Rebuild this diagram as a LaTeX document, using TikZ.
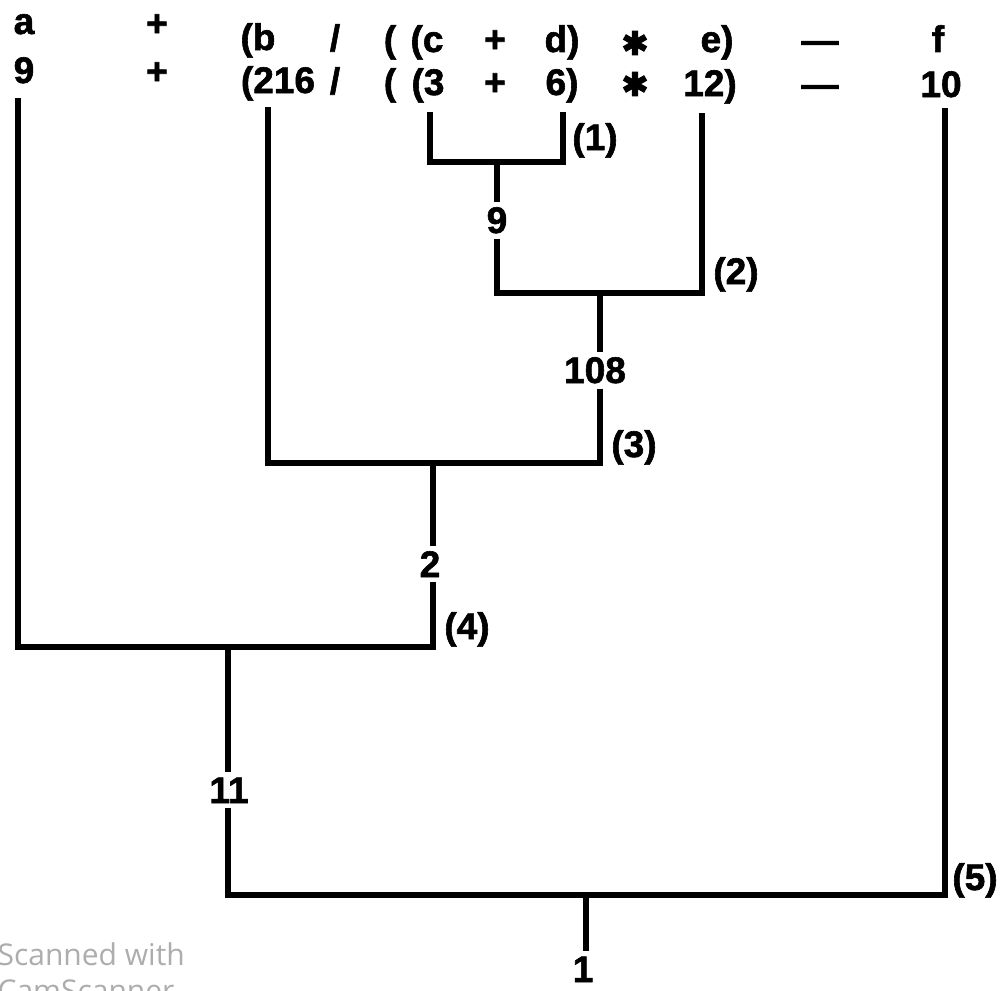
\documentclass[tikz,border=0pt]{standalone}
\usepackage{fontspec}
\setmainfont{Liberation Sans}[BoldFeatures={FakeBold=1.6}]
\newfontfamily\wmfont{Open Sans}
\newfontfamily\symfont{DejaVu Sans}[FakeBold=4]
\begin{document}
\begin{tikzpicture}[x=1pt,y=-1pt,
  tree/.style={line width=6pt, line join=miter},
  tok/.style={font=\fontsize{37}{40}\selectfont\bfseries, inner sep=0pt, anchor=base},
  star/.style={font=\symfont\fontsize{32}{34}\selectfont, inner sep=0pt, anchor=center},
  res/.style={tok, inner sep=5pt},
  wm/.style={font=\wmfont\fontsize{30}{36}\selectfont, text=black!32, inner sep=0pt}]
\useasboundingbox (0,0) rectangle (1008,990);
\clip (0,0) rectangle (1008,990);
% expression, row 1
\node[tok] (va)  at (24,34)  {a};
\node[tok] (op1) at (157,36) {+};
\node[tok] (vb)  at (258,50) {(b};
\node[tok] (op2) at (335,51) {/};
\node[tok] (pa)  at (390,52) {(};
\node[tok] (vc)  at (427,52) {(c};
\node[tok] (op3) at (495,52) {+};
\node[tok] (vd)  at (562,52) {d)};
\node[star] (op4) at (635,43) {✱};
\node[tok] (ve)  at (717,52) {e)};
\node[tok] (op5) at (820,53) {—};
\node[tok] (vf)  at (938,52) {f};
% expression, row 2
\node[tok] (na)  at (24,83)  {9};
\node[tok] (op6) at (157,84) {+};
\node[tok] (nb)  at (278,93) {(216};
\node[tok] (op7) at (335,94) {/};
\node[tok] (pb)  at (390,95) {(};
\node[tok] (nc)  at (428,95) {(3};
\node[tok] (op8) at (495,95) {+};
\node[tok] (nd)  at (562,95) {6)};
\node[star] (op9) at (635,84) {✱};
\node[tok] (ne)  at (710,96) {12)};
\node[tok] (op10) at (820,97) {—};
\node[tok] (nf)  at (941,97) {10};
% tops of the tree lines
\coordinate (ta) at (18,98);
\coordinate (tb) at (268,107);
\coordinate (tc) at (430,112);
\coordinate (td) at (563,112);
\coordinate (te) at (702,113);
\coordinate (tf) at (945,108);
% junctions
\coordinate (j1) at (497,162);
\coordinate (j2) at (600,293);
\coordinate (j3) at (433,463);
\coordinate (j4) at (228,647);
\coordinate (j5) at (586,895);
% intermediate results
\node[res] (r1) at (497,233) {9};
\node[res] (r2) at (595,383) {108};
\node[res] (r3) at (430,577) {2};
\node[res] (r4) at (229,803) {11};
\node[res] (r5) at (583,982) {1};
% step labels
\node[tok] (l1) at (595,150) {(1)};
\node[tok] (l2) at (736,284) {(2)};
\node[tok] (l3) at (634,457) {(3)};
\node[tok] (l4) at (467,639) {(4)};
\node[tok] (l5) at (975,890) {(5)};
% tree
\draw[tree] (tc) |- (j1) -| (td);
\draw[tree] (j1) -- (j1 |- r1.north);
\draw[tree] (j1 |- r1.south) |- (j2) -| (te);
\draw[tree] (j2) -- (j2 |- r2.north);
\draw[tree] (j2 |- r2.south) |- (j3) -| (tb);
\draw[tree] (j3) -- (j3 |- r3.north);
\draw[tree] (j3 |- r3.south) |- (j4) -| (ta);
\draw[tree] (j4) -- (j4 |- r4.north);
\draw[tree] (j4 |- r4.south) |- (j5) -| (tf);
\draw[tree] (j5) -- (j5 |- r5.north);
% watermark
\node[wm, anchor=base east] (wm1) at (185,965) {Scanned with};
\node[wm, anchor=base west] (wm2) at ([yshift=-36pt]wm1.base west) {CamScanner};
\end{tikzpicture}
\end{document}
